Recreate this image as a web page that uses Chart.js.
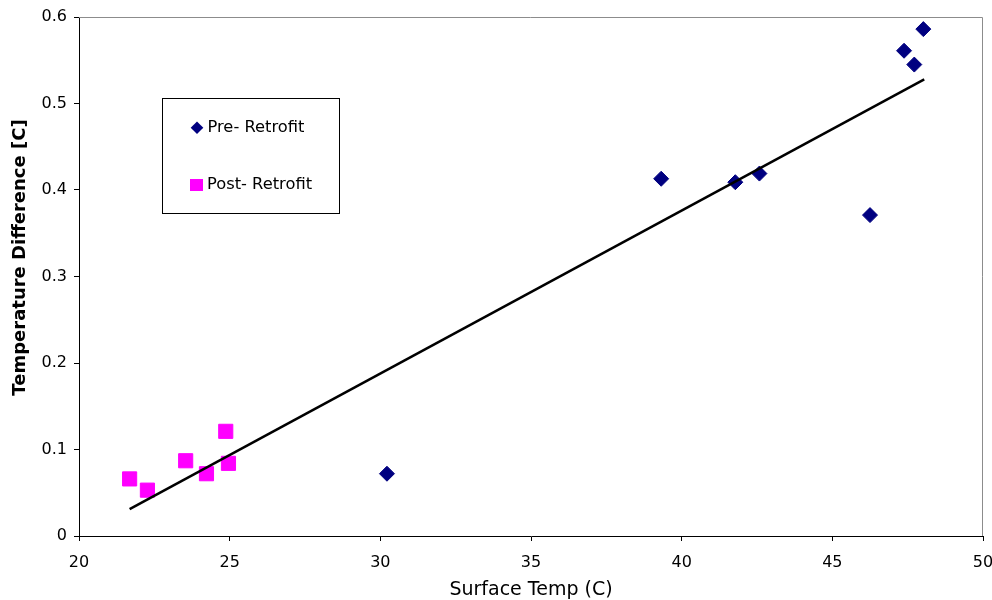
<!DOCTYPE html>
<html>
<head>
<meta charset="utf-8">
<script src="https://cdn.jsdelivr.net/npm/chart.js"></script>
<style>
  body { margin: 0; background: #fff; }
  canvas { display: block; }
</style>
</head>
<body>
<canvas id="tempChart" width="992" height="600"></canvas>
<script>
// values
const preX = [30.22, 39.32, 41.78, 42.58, 46.25, 47.38, 47.72, 48.02];
const preY = [0.072, 0.413, 0.409, 0.419, 0.371, 0.561, 0.545, 0.586];

const postX = [21.68, 22.27, 23.54, 24.23, 24.87, 24.96];
const postY = [0.066, 0.053, 0.087, 0.072, 0.121, 0.084];

// linear trend line end points
const trendX = [21.68, 48.05];
const trendY = [0.031, 0.528];

const xTicks = [20, 25, 30, 35, 40, 45, 50];
const yTicks = [0, 0.1, 0.2, 0.3, 0.4, 0.5, 0.6];

const legendLabels = ['Pre- Retrofit', 'Post- Retrofit'];
const yTitle = 'Temperature Difference [C]';

const NAVY = '#000080';
const MAGENTA = '#FF00FF';
const FONT = "'DejaVu Sans', sans-serif";

function toPoints(xs, ys) {
    return xs.map((x, i) => ({ x: x, y: ys[i] }));
}

// gray frame on top and right of the plot area
const framePlugin = {
    id: 'frame',
    beforeDatasetsDraw(chart) {
        const { ctx, chartArea: a } = chart;
        ctx.save();
        ctx.strokeStyle = '#8c8c8c';
        ctx.lineWidth = 1;
        ctx.beginPath();
        ctx.moveTo(a.left, a.top + 0.5);
        ctx.lineTo(a.right - 0.5, a.top + 0.5);
        ctx.lineTo(a.right - 0.5, a.bottom);
        ctx.stroke();
        ctx.restore();
    }
};

// y title sits a bit above the middle of the axis in the original
const yTitlePlugin = {
    id: 'yTitle',
    afterDraw(chart) {
        const ctx = chart.ctx;
        ctx.save();
        ctx.translate(20, 257.5);
        ctx.rotate(-Math.PI / 2);
        ctx.fillStyle = '#000';
        ctx.font = 'bold 18px ' + FONT;
        ctx.textAlign = 'center';
        ctx.textBaseline = 'middle';
        ctx.fillText(yTitle, 0, 0);
        ctx.restore();
    }
};

// boxed legend inside the plot
const boxLegend = {
    id: 'boxLegend',
    afterDraw(chart) {
        const ctx = chart.ctx;
        ctx.save();
        ctx.fillStyle = '#fff';
        ctx.fillRect(162.5, 98.5, 177, 115);
        ctx.strokeStyle = '#000';
        ctx.lineWidth = 1;
        ctx.strokeRect(162.5, 98.5, 177, 115);

        // diamond
        ctx.fillStyle = NAVY;
        ctx.beginPath();
        ctx.moveTo(197, 121.5);
        ctx.lineTo(203.3, 127.8);
        ctx.lineTo(197, 134.1);
        ctx.lineTo(190.7, 127.8);
        ctx.closePath();
        ctx.fill();

        // square
        ctx.fillStyle = MAGENTA;
        ctx.fillRect(190, 179, 13, 12);

        ctx.fillStyle = '#000';
        ctx.font = '16.3px ' + FONT;
        ctx.textBaseline = 'middle';
        ctx.fillText(legendLabels[0], 207.5, 128);
        ctx.fillText(legendLabels[1], 207, 185);
        ctx.restore();
    }
};

// the plot box is fixed, labels may run over its edges
const noPad = () => ({ left: 0, top: 0, right: 0, bottom: 0 });

const ctx = document.getElementById('tempChart').getContext('2d');
const chart = new Chart(ctx, {
    type: 'scatter',
    data: {
        datasets: [
            {
                label: 'Trend',
                type: 'line',
                data: toPoints(trendX, trendY),
                borderColor: '#000',
                borderWidth: 2.5,
                pointRadius: 0,
                fill: false
            },
            {
                label: legendLabels[0],
                data: toPoints(preX, preY),
                pointStyle: 'rectRot',
                pointRadius: 7.5,
                backgroundColor: NAVY,
                borderColor: NAVY,
                borderWidth: 1
            },
            {
                label: legendLabels[1],
                data: toPoints(postX, postY),
                pointStyle: 'rect',
                pointRadius: 10,
                backgroundColor: MAGENTA,
                borderColor: MAGENTA,
                borderWidth: 1
            }
        ]
    },
    options: {
        responsive: false,
        animation: false,
        layout: { autoPadding: false, padding: { top: 17, right: 9, bottom: 0, left: 0 } },
        plugins: {
            legend: { display: false },
            tooltip: { enabled: false }
        },
        scales: {
            x: {
                type: 'linear',
                min: 20,
                max: 50,
                afterBuildTicks: s => { s.ticks = xTicks.map(v => ({ value: v })); },
                afterFit: s => { s.height = 64; s.paddingLeft = 0; s.paddingRight = 0; s.getPadding = noPad; },
                grid: { drawOnChartArea: false, drawTicks: true, tickLength: 5, color: '#000' },
                border: { color: '#000', width: 1 },
                ticks: { color: '#000', font: { family: FONT, size: 16 }, padding: 12, maxRotation: 0 },
                title: {
                    display: true,
                    text: 'Surface Temp (C)',
                    color: '#000',
                    font: { family: FONT, size: 19 },
                    padding: { top: 0, bottom: -1 }
                }
            },
            y: {
                type: 'linear',
                min: 0,
                max: 0.6,
                afterBuildTicks: s => { s.ticks = yTicks.map(v => ({ value: v })); },
                afterFit: s => { s.width = 79; s.paddingTop = 0; s.paddingBottom = 0; s.getPadding = noPad; },
                grid: { drawOnChartArea: false, drawTicks: true, tickLength: 5, color: '#000' },
                border: { color: '#000', width: 1 },
                ticks: {
                    color: '#000',
                    font: { family: FONT, size: 16 },
                    padding: 7,
                    callback: v => String(v)
                },
                title: { display: false }
            }
        }
    },
    plugins: [framePlugin, yTitlePlugin, boxLegend]
});
</script>
</body>
</html>
